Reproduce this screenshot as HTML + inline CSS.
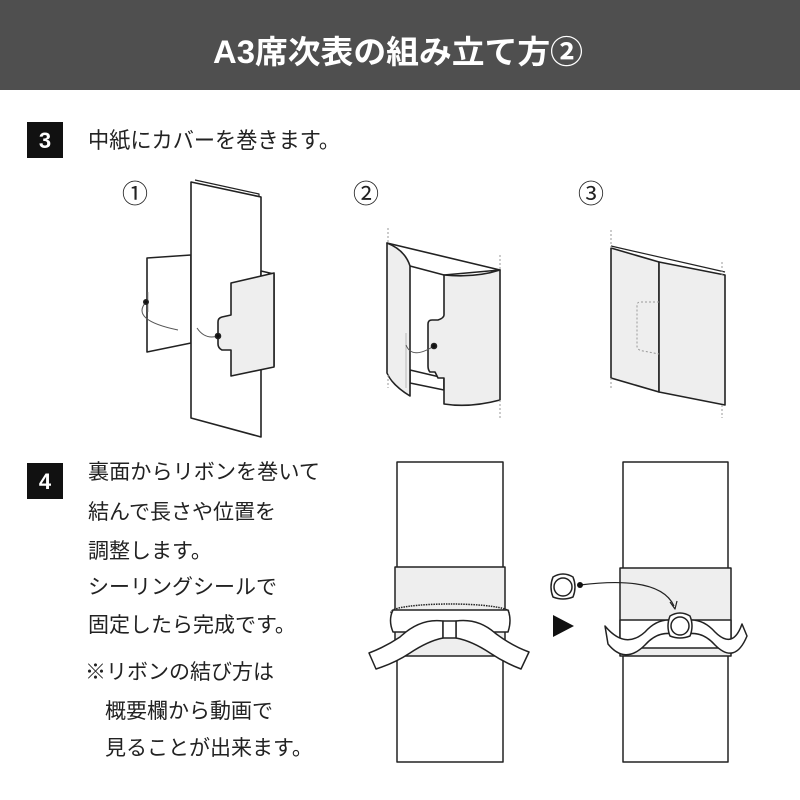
<!DOCTYPE html>
<html><head><meta charset="utf-8"><style>
html,body{margin:0;padding:0;background:#fff;}
svg{display:block;}
text{font-family:"Liberation Sans","Noto Sans CJK JP",sans-serif;}
</style></head><body>
<svg width="800" height="800" viewBox="0 0 800 800" xmlns="http://www.w3.org/2000/svg">
<rect x="0" y="0" width="800" height="90" fill="#4f4f4f"/>
<text x="398" y="63" font-size="32" font-weight="bold" fill="#fff" text-anchor="middle" textLength="370" lengthAdjust="spacingAndGlyphs">A3席次表の組み立て方②</text>

<rect x="27" y="122" width="36" height="36" fill="#111"/>
<text x="45" y="148" font-size="22" font-weight="bold" fill="#fff" text-anchor="middle">3</text>
<text x="88" y="148" font-size="22" fill="#222" textLength="252" lengthAdjust="spacingAndGlyphs">中紙にカバーを巻きます。</text>

<g font-size="26" fill="#222" text-anchor="middle">
<text x="135" y="203">①</text><text x="366" y="203">②</text><text x="591" y="203">③</text>
</g>

<g stroke="#222" stroke-width="1.6" stroke-linejoin="round" fill="#fff">
<!-- fig1 -->
<polygon points="147,258 191,255 191,343 147,352"/>
<polyline points="195,180 259,194 259,197" fill="none" stroke-width="1.2"/>
<polygon points="191,182 261,197 261,437 191,418"/>
<polygon points="261,271 274,274 274,366 261,369"/>
<path d="M231,283 L274,273 L274,367 L231,376 L231,350 L222,350 Q218,348 218,344 L218,322 Q218,318 222,317 L231,315 Z" fill="#eee"/>
<path d="M148,312 L148,292" stroke-width="0.8" fill="none" stroke="#999"/>
<path d="M146,302 Q130,320 178,330" fill="none" stroke-width="1" stroke="#555"/>
<path d="M218,336 Q205,340 197,328" fill="none" stroke-width="1" stroke="#555"/>
<circle cx="146" cy="302" r="2.2" fill="#111"/><circle cx="218" cy="336" r="2.5" fill="#111"/>
<!-- fig2 -->
<path d="M387,243 L500,270 L444,275 L410,266 Z"/>
<path d="M410,370 L444,378 L444,390 L410,383 Z"/>
<path d="M387,243 Q405,250 410,266 L410,396 Q392,385 387,373 Z" fill="#eee"/>
<path d="M444,275 Q475,278 500,270 L500,400 Q470,408 444,404 L444,378 L438,378 L435,372 L430,372 Q428,370 428,366 L428,324 Q428,320 432,320 L438,320 Q444,318 444,315 Z" fill="#eee"/>
<path d="M406,333 L406,388" stroke="#aaa" stroke-width="0.8"/>
<path d="M406,345 Q412,360 434,346" fill="none" stroke-width="1" stroke="#555"/>
<circle cx="434" cy="346" r="2.5" fill="#111"/>
<!-- fig3 -->
<polygon points="611,248 659,262 659,392 611,378" fill="#eee"/>
<polygon points="659,262 725,275 725,405 659,392" fill="#eee"/>
<path d="M611,246 L725,272" fill="none" stroke-width="1.2"/>
</g>
<g stroke="#999" stroke-width="1" stroke-dasharray="2,2" fill="none">
<path d="M388,228 V243 M388,375 V388 M500,255 V270 M500,400 V418"/>
<path d="M611,230 V248 M611,378 V390 M722,262 V275 M722,405 V418"/>
<path d="M659,302 H640 Q637,302 637,306 V346 Q637,350 643,351 L659,354"/>
</g>

<rect x="27" y="463" width="36" height="36" fill="#111"/>
<text x="45" y="489" font-size="22" font-weight="bold" fill="#fff" text-anchor="middle">4</text>
<g font-size="21" fill="#222">
<text x="88" y="479" textLength="232" lengthAdjust="spacingAndGlyphs">裏面からリボンを巻いて</text>
<text x="88" y="519">結んで長さや位置を</text>
<text x="88" y="558">調整します。</text>
<text x="88" y="594">シーリングシールで</text>
<text x="88" y="632">固定したら完成です。</text>
<text x="85" y="679">※リボンの結び方は</text>
<text x="105" y="718">概要欄から動画で</text>
<text x="105" y="755">見ることが出来ます。</text>
</g>

<g stroke="#222" stroke-width="1.5" stroke-linejoin="round" fill="#fff">
<rect x="397" y="462" width="106" height="300"/>
<rect x="395" y="567" width="110" height="89" fill="#eee"/>
<ellipse cx="450" cy="612" rx="59" ry="8" fill="#eee" stroke-dasharray="1.5,1"/>
<path d="M393,610 L508,610 Q512,620 508,632 L393,632 Q388,620 393,610 Z"/>
<path d="M443,621 Q420,618 400,637 Q385,647 369,653 L376,669 Q395,663 410,653 Q428,641 443,638 Z"/>
<path d="M456,621 Q478,618 495,633 Q512,646 529,652 L521,669 Q505,663 490,653 Q472,641 456,638 Z"/>
<rect x="443" y="621" width="13" height="17"/>

<rect x="623" y="462" width="105" height="300"/>
<rect x="620" y="568" width="111" height="88" fill="#eee"/>
<rect x="620" y="620" width="111" height="28" fill="#fff"/>
<path d="M605,626 Q625,650 645,632 Q660,615 680,622 Q700,615 715,632 Q733,650 742,624 L747,636 Q735,665 715,645 Q700,628 680,636 Q660,628 645,645 Q625,665 608,644 Z"/>
<path d="M670,616 Q680,610 690,616 Q694,626 690,636 Q680,640 670,636 Q666,626 670,616 Z"/>
<circle cx="680" cy="626" r="9"/>
<path d="M553,577 Q563,571 573,577 Q577,587 573,597 Q563,601 553,597 Q549,587 553,577 Z"/>
<circle cx="563" cy="587" r="9"/>
<path d="M580,585 Q660,575 674,606" fill="none" stroke-width="1.2"/>
<path d="M670,602 L675,609 L677,601" fill="none" stroke-width="1.2"/>
</g>
<circle cx="580" cy="585" r="3" fill="#111"/>
<polygon points="553,615 574,626 553,637" fill="#111"/>
</svg>
</body></html>
